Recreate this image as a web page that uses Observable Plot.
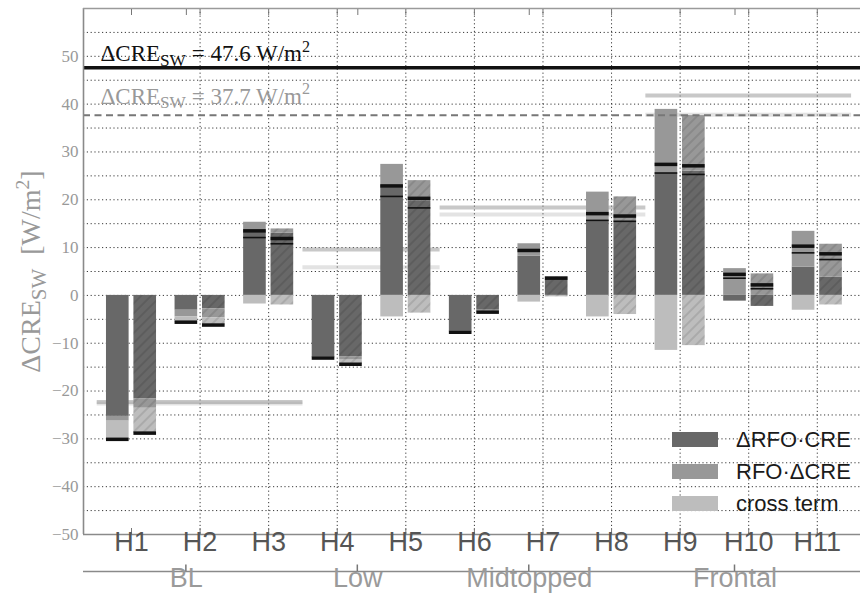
<!DOCTYPE html>
<html>
<head>
<meta charset="utf-8">
<script src="https://cdn.jsdelivr.net/npm/d3@7"></script>
<script src="https://cdn.jsdelivr.net/npm/@observablehq/plot@0.6"></script>
<style>
  body { margin: 0; background: #fff; }
  #chart svg { display: block; }
</style>
</head>
<body>
<div id="chart"></div>
<script>
// Cloud regimes and their groups
const regimes = ["H1", "H2", "H3", "H4", "H5", "H6", "H7", "H8", "H9", "H10", "H11"];
const groups = ["BL", "Low", "Midtopped", "Frontal"];
const groupFirst = [1, 4, 6, 9];
const groupLast = [3, 5, 8, 11];

// Decomposition terms
const components = ["ΔRFO·CRE", "RFO·ΔCRE", "cross term"];

// First model (solid bars), W/m²
const rfoCreA  = [-25.3, -3.1, 13.3, -12.9, 23.0, -7.4, 8.2, 15.7, 25.6, -1.2, 5.9];
const rfoDcreA = [-1.0, -1.4, 2.0, 0.0, 4.4, -0.2, 2.6, 5.9, 13.3, 5.6, 7.5];
const crossA   = [-3.8, -1.1, -1.8, -0.2, -4.5, -0.1, -1.4, -4.5, -11.5, 0.0, -3.1];
const directA  = [null, null, 12.1, null, 20.7, null, null, 15.7, 25.6, 3.6, 8.9];

// Second model (hatched bars), W/m²
const rfoCreB  = [-21.6, -2.8, 13.0, -12.8, 19.8, -3.1, 3.2, 15.3, 26.0, -2.3, 3.8];
const rfoDcreB = [-2.0, -1.9, 0.9, -0.6, 4.2, -0.2, 0.7, 5.3, 11.6, 4.5, 6.9];
const crossB   = [-5.2, -1.5, -2.0, -1.0, -3.7, -0.2, -0.3, -4.0, -10.5, 0.0, -2.0];
const directB  = [null, null, 10.8, null, 18.3, null, null, 15.5, 25.3, 1.4, 7.5];

// Regime-group contributions of each model
const groupMeanA = [-22.3, 9.6, 18.4, 41.8];
const groupMeanB = [-22.6, 5.9, 16.9, 37.8];

// Global change in shortwave cloud radiative effect
const totalA = 47.6;
const totalB = 37.7;

// Axis ticks
const yTicks = [-50, -40, -30, -20, -10, 0, 10, 20, 30, 40, 50];
const yGrid = [-45, -40, -35, -30, -25, -20, -15, -10, -5, 0, 5, 10, 15, 20, 25, 30, 35, 40, 45, 50, 55];

// ---- layout constants
const xDomain = [0.3, 11.63];
const yDomain = [-50, 60];
const barW = 0.33;
const fills = ["#686868", "#989898", "#bdbdbd"];
const serif = "'Liberation Serif', 'DejaVu Serif', serif";
const sans = "'Liberation Sans', Arial, sans-serif";

const models = [
  {parts: [rfoCreA, rfoDcreA, crossA], direct: directA, offset: -0.2},
  {parts: [rfoCreB, rfoDcreB, crossB], direct: directB, offset: 0.2}
];

// Stack positive and negative terms separately for every bar
const segments = [], totals = [], directs = [];
models.forEach((m, mi) => {
  regimes.forEach((r, i) => {
    const xc = i + 1 + m.offset;
    const x1 = xc - barW / 2, x2 = xc + barW / 2;
    let up = 0, down = 0;
    m.parts.forEach((arr, k) => {
      const v = arr[i];
      if (v >= 0) { segments.push({model: mi, term: components[k], x1, x2, y1: up, y2: up + v}); up += v; }
      else { segments.push({model: mi, term: components[k], x1, x2, y1: down, y2: down + v}); down += v; }
    });
    totals.push({model: mi, x1, x2, y: up + down});
    if (m.direct[i] != null) directs.push({model: mi, x1, x2, y: m.direct[i]});
  });
});

const catPos = regimes.map((r, i) => i + 1);
const groupPos = groups.map((g, i) => (groupFirst[i] + groupLast[i]) / 2 - 0.2);
const minus = d => d < 0 ? "\u2212" + (-d) : String(d);

// Legend drawn inside the lower-right of the frame
function legend(index, scales, values, dims) {
  const g = d3.create("svg:g");
  const right = dims.width - dims.marginRight;
  const bottom = dims.height - dims.marginBottom;
  components.forEach((c, k) => {
    const cy = bottom - 94.5 + k * 32;
    g.append("rect").attr("x", right - 188).attr("y", cy - 7.5)
      .attr("width", 46).attr("height", 15).attr("fill", fills[k]);
    g.append("text").attr("x", right - 124).attr("y", cy).attr("dy", "0.36em")
      .attr("text-anchor", "start")
      .attr("font-family", sans).attr("font-size", 22).attr("fill", "#1a1a1a").text(c);
  });
  return g.node();
}

// Group tick marks standing on the secondary axis line
function groupTicks(index, {x, y}) {
  const g = d3.create("svg:g").attr("stroke", "#777").attr("stroke-width", 1.5);
  const y0 = y(yDomain[0]) + 37;
  groupPos.forEach(p => g.append("line").attr("x1", x(p)).attr("x2", x(p)).attr("y1", y0).attr("y2", y0 - 6.5));
  return g.node();
}

const svg = Plot.plot({
  width: 860,
  height: 601,
  marginLeft: 83,
  marginRight: 0,
  marginTop: 8,
  marginBottom: 67,
  x: {domain: xDomain, axis: null},
  y: {domain: yDomain, axis: null},
  color: {domain: components, range: fills},
  style: {background: "#fff", fontFamily: sans, overflow: "visible"},
  marks: [
    // dotted grid
    Plot.ruleY(yGrid, {stroke: "#3a3a3a", strokeWidth: 1, strokeDasharray: "1.2,2.6"}),
    Plot.ruleX(catPos.slice(1), {stroke: "#3a3a3a", strokeWidth: 1, strokeDasharray: "1.2,2.6"}),
    // group contributions
    Plot.ruleY(groups, {y: (d, i) => groupMeanA[i], x1: (d, i) => groupFirst[i] - 0.5, x2: (d, i) => groupLast[i] + 0.5,
      stroke: "#9a9a9a", strokeOpacity: 0.55, strokeWidth: 4}),
    Plot.ruleY(groups, {y: (d, i) => groupMeanB[i], x1: (d, i) => groupFirst[i] - 0.5, x2: (d, i) => groupLast[i] + 0.5,
      stroke: "#9a9a9a", strokeOpacity: 0.28, strokeWidth: 4}),
    // stacked bars
    Plot.rect(segments, {x1: "x1", x2: "x2", y1: "y1", y2: "y2", fill: "term"}),
    Plot.rect(segments.filter(d => d.model === 1), {x1: "x1", x2: "x2", y1: "y1", y2: "y2", fill: "url(#hatch)"}),
    // direct estimate and summed total
    Plot.ruleY(directs, {x1: "x1", x2: "x2", y: "y", stroke: "#111", strokeWidth: 1.6}),
    Plot.ruleY(totals, {x1: "x1", x2: "x2", y: "y", stroke: "#111", strokeWidth: 3.5}),
    // global totals
    Plot.ruleY([totalA], {stroke: "#111", strokeWidth: 3.5}),
    Plot.ruleY([totalB], {stroke: "#777", strokeWidth: 2, strokeDasharray: "7,4.5"}),
    Plot.text([totalA], {y: d => d, frameAnchor: "left", dx: 17, dy: -6.5, lineAnchor: "bottom", textAnchor: "start",
      text: d => `ΔCRE_{SW} = ${d} W/m^{2}`, fontFamily: serif, fontSize: 23, fill: "#111"}),
    Plot.text([totalB], {y: d => d, frameAnchor: "left", dx: 17, dy: -11.5, lineAnchor: "bottom", textAnchor: "start",
      text: d => `ΔCRE_{SW} = ${d} W/m^{2}`, fontFamily: serif, fontSize: 23, fill: "#999"}),
    // spines
    Plot.ruleX([xDomain[0]], {stroke: "#8a8a8a", strokeWidth: 1.6}),
    Plot.ruleY([yDomain[0]], {stroke: "#8a8a8a", strokeWidth: 1.6}),
    Plot.ruleY([yDomain[1]], {stroke: "#9a9a9a", strokeWidth: 1.4}),
    // inward ticks
    Plot.axisX({anchor: "bottom", ticks: catPos, tickSize: -6, tickFormat: () => "", stroke: "#777"}),
    Plot.axisX({anchor: "top", ticks: catPos, tickSize: -6, tickFormat: () => "", stroke: "#777"}),
    Plot.axisX({anchor: "top", ticks: groupPos, tickSize: -6, tickFormat: () => "", stroke: "#777"}),
    // y tick labels
    Plot.text(yTicks, {y: d => d, frameAnchor: "left", dx: -5, textAnchor: "end", text: minus,
      fontFamily: serif, fontSize: 17, fill: "#999"}),
    // y axis title
    Plot.text(["ΔCRE_{SW}  [W/m^{2}]"], {frameAnchor: "left", dx: -52, rotate: -90, fontFamily: serif, fontSize: 28, fill: "#999"}),
    // regime labels
    Plot.text(regimes, {x: (d, i) => i + 1, frameAnchor: "bottom", dy: 16.5, fontSize: 27, fill: "#555"}),
    // group axis
    Plot.ruleY([yDomain[0]], {dy: 37, stroke: "#8a8a8a", strokeWidth: 1.5}),
    groupTicks,
    Plot.text(groups, {x: (d, i) => groupPos[i], frameAnchor: "bottom", dy: 52, fontSize: 27, fill: "#9a9a9a"}),
    legend
  ]
});

// hatch pattern for the second model
const defs = d3.select(svg).insert("defs", ":first-child");
const pat = defs.append("pattern").attr("id", "hatch").attr("patternUnits", "userSpaceOnUse")
  .attr("width", 7).attr("height", 7).attr("patternTransform", "rotate(45)");
pat.append("line").attr("x1", 1).attr("y1", 0).attr("x2", 1).attr("y2", 7)
  .attr("stroke", "rgba(0,0,0,0.2)").attr("stroke-width", 1);

document.getElementById("chart").appendChild(svg);

// sub- and superscripts written as _{..} and ^{..}
const NS = "http://www.w3.org/2000/svg";
d3.select(svg).selectAll("text").each(function () {
  const s = this.textContent;
  if (!/[_^]\{/.test(s)) return;
  const fs = parseFloat(getComputedStyle(this).fontSize) || 16;
  const rotated = /rotate/.test(this.getAttribute("transform") || "");
  const parts = s.split(/(_\{[^}]*\}|\^\{[^}]*\})/).filter(Boolean);
  this.textContent = "";
  let shift = 0;
  const spans = [];
  for (const p of parts) {
    const ts = document.createElementNS(NS, "tspan");
    let target = 0;
    if (p.startsWith("_{")) { ts.textContent = p.slice(2, -1); target = fs * 0.2; ts.setAttribute("font-size", fs * 0.75); }
    else if (p.startsWith("^{")) { ts.textContent = p.slice(2, -1); target = -fs * 0.4; ts.setAttribute("font-size", fs * 0.7); }
    else { ts.textContent = p; }
    ts.setAttribute("dy", target - shift);
    shift = target;
    ts.setAttribute("style", "white-space: pre");
    this.appendChild(ts);
    spans.push(ts);
  }
  // the axis title is centred along the frame
  if (rotated) {
    const len = this.getComputedTextLength();
    this.setAttribute("text-anchor", "start");
    this.style.textAnchor = "start";
    spans[0].setAttribute("x", -len / 2);
  }
});
</script>
</body>
</html>
